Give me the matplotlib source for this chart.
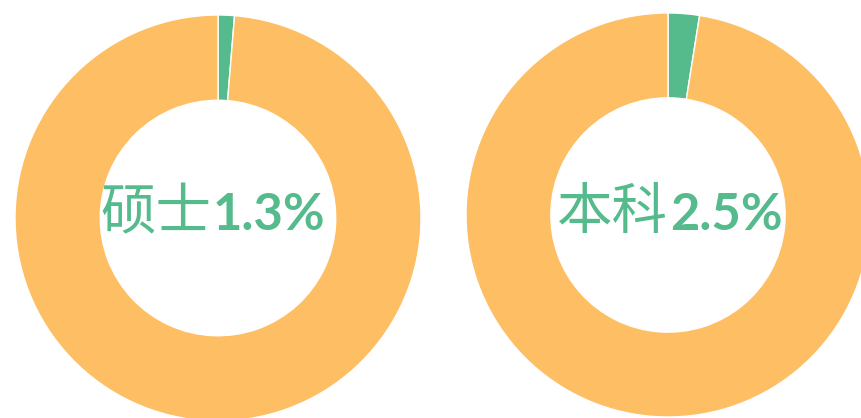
import matplotlib.pyplot as plt

# share of each degree (green) vs the rest (orange)
labels = ['硕士', '本科']
shares = [1.3, 2.5]
value_text = ['1.3%', '2.5%']

green = '#55BA8C'
orange = '#FDBE64'

W, H = 861, 418
fig = plt.figure(figsize=(W / 100, H / 100), dpi=100)

# donut centres / radii in pixels (from top-left)
centres = [(218, 218, 203), (668, 215, 202)]

for (cx, cy, r), share in zip(centres, shares):
    ax = fig.add_axes([(cx - r) / W, (H - cy - r) / H, 2 * r / W, 2 * r / H])
    ax.pie([share, 100 - share], colors=[green, orange], startangle=90,
           counterclock=False, radius=1,
           wedgeprops=dict(width=0.42, edgecolor='white', linewidth=1))
    ax.set_xlim(-1, 1)
    ax.set_ylim(-1, 1)
    ax.set_aspect('equal')
    ax.axis('off')

# centre labels: name in regular CJK, number in bold
text_pos = [(211, 214), (668, 213)]
for (tx, ty), name, val in zip(text_pos, labels, value_text):
    fig.text(tx / W, (H - ty) / H, name, ha='right', va='center',
             fontsize=40, color=green, family=['Noto Sans CJK SC', 'DejaVu Sans'])
    fig.text((tx + 2) / W, (H - ty - 2) / H, val, ha='left', va='center',
             fontsize=36.5, color=green, fontweight='bold', family=['Lato', 'DejaVu Sans'])

fig.savefig('out.png', dpi=100)
